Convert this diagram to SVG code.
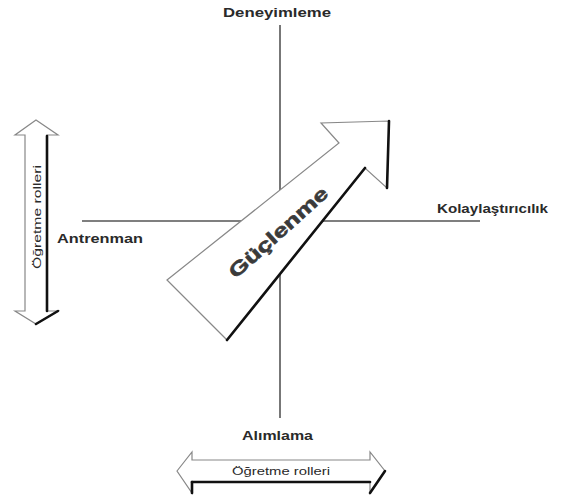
<svg xmlns="http://www.w3.org/2000/svg" width="561" height="499" viewBox="0 0 561 499">
<style>
.axis{stroke:#555;stroke-width:1.6;fill:none}
.lbl{font-family:"Liberation Sans",Arial,sans-serif;font-weight:bold;font-size:13px;fill:#2a2a2a}
.small{font-family:"Liberation Sans",Arial,sans-serif;font-size:10px;fill:#2a2a2a}
.shape{fill:#fff;stroke:#888;stroke-width:1.2;stroke-linejoin:miter}
.shadow{stroke:#111;stroke-width:2.6;fill:none;stroke-linecap:round}
.big{font-family:"Liberation Sans",Arial,sans-serif;font-weight:bold;font-size:19px;fill:#3a3a3a;stroke:#3a3a3a;stroke-width:0.6}
</style>
<rect width="561" height="499" fill="#fff"/>
<g id="connectors">
<line class="axis" x1="280" y1="25" x2="280" y2="418"/>
<line class="axis" x1="82" y1="221" x2="480" y2="221"/>
</g>
<g id="deneyimleme"><text class="lbl" x="223" y="17" textLength="108" lengthAdjust="spacingAndGlyphs">Deneyimleme</text></g>
<g id="kolaylastiricilik"><text class="lbl" x="437" y="213" textLength="111" lengthAdjust="spacingAndGlyphs">Kolaylaştırıcılık</text></g>
<g id="antrenman"><text class="lbl" x="57" y="243" textLength="86" lengthAdjust="spacingAndGlyphs">Antrenman</text></g>
<g id="alimlama"><text class="lbl" x="242" y="440" textLength="71" lengthAdjust="spacingAndGlyphs">Alımlama</text></g>
<g id="guclenme">
<polygon class="shape" points="167,280 339,143 321,123 389,121 387,188 365,168 227,340"/>
<polyline class="shadow" points="227,340 365,168"/>
<polyline class="shadow" points="389,121 387,188"/>
<text class="big" transform="translate(278,232) rotate(-42)" text-anchor="middle" dy="7" textLength="126" lengthAdjust="spacingAndGlyphs">Güçlenme</text>
</g>
<g id="ogretme-rolleri-dikey">
<polygon class="shape" points="36,120 58,135 47,135 47,311 58,311 36,324 15,311 25,311 25,135 15,135"/>
<polyline class="shadow" points="47,136 47,311"/>
<polyline class="shadow" points="58,311 36,324"/>
<text class="small" transform="translate(37,217) rotate(-90)" text-anchor="middle" dy="3.5" textLength="104" lengthAdjust="spacingAndGlyphs">Öğretme rolleri</text>
</g>
<g id="ogretme-rolleri-yatay">
<polygon class="shape" points="177,471 192,452 192,460 370,460 370,452 385,471 370,493 370,482 192,482 192,493"/>
<polyline class="shadow" points="192,482 370,482"/>
<polyline class="shadow" points="385,471 370,493"/>
<polyline class="shadow" points="192,482 192,493"/>
<text class="small" x="281" y="475" text-anchor="middle" textLength="98" lengthAdjust="spacingAndGlyphs">Öğretme rolleri</text>
</g>
</svg>
